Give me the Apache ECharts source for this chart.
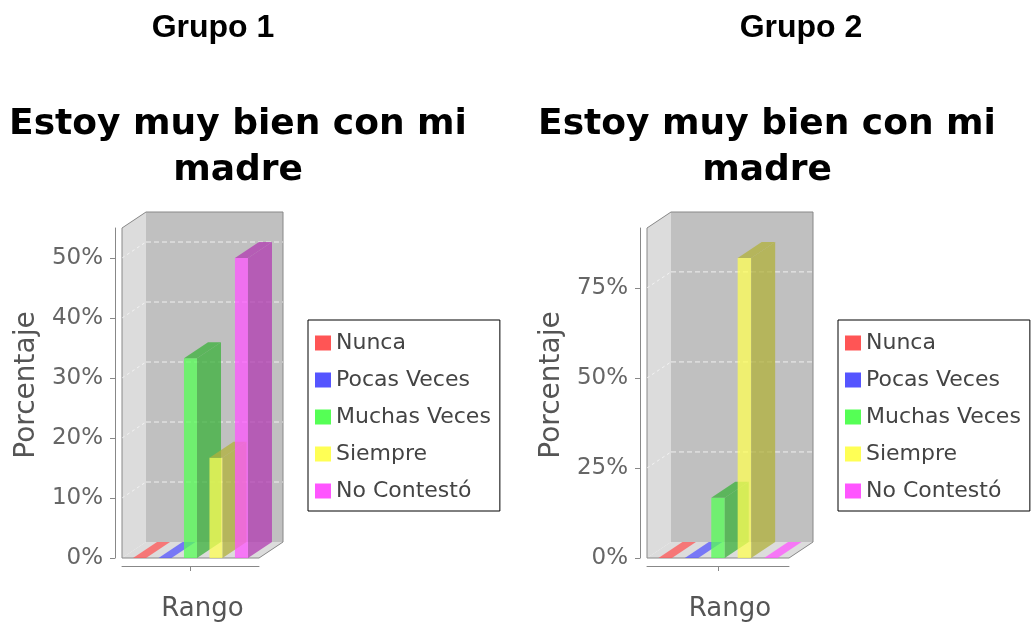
<!DOCTYPE html>
<html><head><meta charset="utf-8">
<script src="https://cdn.jsdelivr.net/npm/echarts@6/dist/echarts.min.js"></script>
<style>html,body{margin:0;padding:0;background:#fff}#c{width:1033px;height:628px}</style>
</head><body><div id="c"></div>
<script>
// ---------- data ----------
const groupTitles = ['Grupo 1', 'Grupo 2'];
const chartTitle = 'Estoy muy bien con mi\nmadre';
const categories = ['Rango'];
const seriesNames = ['Nunca', 'Pocas Veces', 'Muchas Veces', 'Siempre', 'No Contestó'];
const grupo1Values = [0, 0, 33.3, 16.7, 50.0];
const grupo2Values = [0, 0, 16.7, 83.3, 0];
const grupo1Ticks = [0, 10, 20, 30, 40, 50];
const grupo2Ticks = [0, 25, 50, 75];
const yAxisName = 'Porcentaje';
const xAxisName = 'Rango';

// ---------- style ----------
const BASE = [[255,85,85],[85,85,255],[85,255,85],[255,255,85],[255,85,255]];
const ALPHA = 0.75;
const DX = 24, DY = 16;
const FONT = 'DejaVu Sans';
function rgba(c, a, k) { k = k || 1; return 'rgba(' + Math.floor(c[0]*k) + ',' + Math.floor(c[1]*k) + ',' + Math.floor(c[2]*k) + ',' + a + ')'; }
function hex(c) { return 'rgb(' + c.join(',') + ')'; }

const groups = [
  { values: grupo1Values, ticks: grupo1Ticks, interval: 10, grid: {left: 122, top: 228, width: 137, height: 330}, titleX: 213, chartX: 238, legendX: 308 },
  { values: grupo2Values, ticks: grupo2Ticks, interval: 25, grid: {left: 647, top: 228, width: 142, height: 330}, titleX: 801, chartX: 767, legendX: 838 }
];

const chart = echarts.init(document.getElementById('c'), null, {renderer: 'canvas'});

const option = {
  backgroundColor: '#fff',
  animation: false,
  title: [], grid: [], xAxis: [], yAxis: [], legend: [], series: []
};

groups.forEach(function (g, gi) {
  option.title.push({ text: groupTitles[gi], left: g.titleX, top: 12, textAlign: 'center', padding: 0,
    textStyle: { fontSize: 32, fontWeight: 'bold', fontFamily: 'Liberation Sans', color: '#000' } });
  option.title.push({ text: chartTitle, left: g.chartX, top: 102, textAlign: 'center', padding: 0,
    textStyle: { fontSize: 36, fontWeight: 'bold', fontFamily: FONT, lineHeight: 46, color: '#000' } });
  option.grid.push(Object.assign({ containLabel: false, outerBoundsMode: 'none' }, g.grid));
  option.xAxis.push({
    type: 'category', gridIndex: gi, data: categories, offset: 8,
    axisLine: { show: true, onZero: false, lineStyle: { color: '#888', width: 1 } },
    axisTick: { show: true, alignWithLabel: true, length: 5, lineStyle: { color: '#888' } },
    axisLabel: { show: false }, splitLine: { show: false },
    name: xAxisName, nameLocation: 'middle', nameGap: 30, nameMoveOverlap: false,
    nameTextStyle: { fontSize: 26, color: '#555', fontFamily: FONT, padding: [0, 0, 0, 24] }
  });
  option.yAxis.push({
    type: 'value', gridIndex: gi, min: 0, max: Math.max.apply(null, g.values) * 1.1, interval: g.interval, offset: 7,
    axisLine: { show: true, lineStyle: { color: '#888' } },
    axisTick: { show: true, length: 5, lineStyle: { color: '#888' }, customValues: g.ticks },
    axisLabel: { customValues: g.ticks, formatter: function (v) { return v + '%'; }, fontSize: 23, color: '#666', margin: 12, fontFamily: FONT },
    splitLine: { show: false },
    name: yAxisName, nameLocation: 'middle', nameRotate: 90, nameGap: 74, nameMoveOverlap: false,
    nameTextStyle: { fontSize: 28, color: '#555', fontFamily: FONT, padding: [0, 0, 0, 16] }
  });
  option.legend.push({
    orient: 'vertical', left: g.legendX, top: 320,
    padding: [12, 9, 9, 7], itemGap: 15, itemWidth: 16, itemHeight: 15, icon: 'rect',
    borderColor: '#000', borderWidth: 1, selectedMode: false,
    textStyle: { fontSize: 22, color: '#444', fontFamily: FONT, lineHeight: 22 },
    data: seriesNames
  });

  // 3D frame (walls & floor)
  option.series.push({
    type: 'custom', xAxisIndex: gi, yAxisIndex: gi, z: 1, silent: true, data: [[0, 0]],
    renderItem: function (params, api) {
      const cs = params.coordSys; const x = cs.x, y = cs.y, w = cs.width, h = cs.height;
      return { type: 'group', children: [
        { type: 'rect', shape: { x: x + DX, y: y - DY, width: w, height: h }, style: { fill: '#c0c0c0' } },
        { type: 'polygon', shape: { points: [[x, y], [x + DX, y - DY], [x + DX, y + h - DY], [x, y + h]] }, style: { fill: '#dcdcdc' } },
        { type: 'polygon', shape: { points: [[x, y + h], [x + DX, y + h - DY], [x + w + DX, y + h - DY], [x + w, y + h]] }, style: { fill: '#dcdcdc' } },
        { type: 'polygon', shape: { points: [[x, y], [x + DX, y - DY], [x + w + DX, y - DY], [x + w + DX, y + h - DY], [x + w, y + h], [x, y + h]] }, style: { fill: 'none', stroke: '#888', lineWidth: 1 } }
      ] };
    }
  });
  // gridlines on walls
  option.series.push({
    type: 'custom', xAxisIndex: gi, yAxisIndex: gi, z: 1, silent: true,
    data: g.ticks.filter(function (t) { return t > 0; }).map(function (t) { return [0, t]; }),
    renderItem: function (params, api) {
      const cs = params.coordSys; const x = cs.x, w = cs.width;
      const yy = api.coord([0, api.value(1)])[1];
      return { type: 'group', children: [
        { type: 'line', shape: { x1: x, y1: yy, x2: x + DX, y2: yy - DY }, style: { stroke: 'rgba(255,255,255,0.6)', lineWidth: 1, lineDash: [3, 3] } },
        { type: 'line', shape: { x1: x + DX, y1: yy - DY, x2: x + w + DX, y2: yy - DY }, style: { stroke: 'rgba(255,255,255,0.75)', lineWidth: 1, lineDash: [5, 3] } }
      ] };
    }
  });
  // bars
  seriesNames.forEach(function (name, si) {
    const col = BASE[si];
    option.series.push({
      type: 'custom', name: name, xAxisIndex: gi, yAxisIndex: gi, z: 3,
      itemStyle: { color: hex(col) },
      data: [[0, g.values[si]]],
      renderItem: function (params, api) {
        const base = api.coord([api.value(0), 0]);
        const top = api.coord([api.value(0), api.value(1)]);
        const band = api.size([1, 0])[0];
        const slot = band * 0.186, bw = band * 0.095;
        const cx = base[0] + (si - 2) * slot;
        const x0 = cx - bw / 2, x1 = cx + bw / 2, y0 = base[1], y1 = top[1];
        const zero = api.value(1) === 0;
        const front = rgba(col, ALPHA), dark = rgba(col, ALPHA, 0.7);
        return { type: 'group', children: [
          { type: 'rect', shape: { x: x0, y: y1, width: bw, height: y0 - y1 }, style: { fill: front } },
          { type: 'polygon', shape: { points: [[x1, y1], [x1 + DX, y1 - DY], [x1 + DX, y0 - DY], [x1, y0]] }, style: { fill: dark } },
          { type: 'polygon', shape: { points: [[x0, y1], [x0 + DX, y1 - DY], [x1 + DX, y1 - DY], [x1, y1]] }, style: { fill: zero ? front : dark } }
        ] };
      }
    });
  });
});

chart.setOption(option);
</script>
</body></html>
